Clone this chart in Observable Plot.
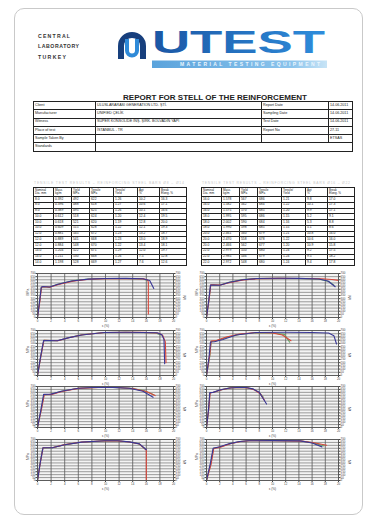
<!DOCTYPE html>
<html><head><meta charset="utf-8">
<script src="https://cdn.jsdelivr.net/npm/d3@7"></script>
<script src="https://cdn.jsdelivr.net/npm/@observablehq/plot@0.6"></script>
<style>
body{margin:0;background:#fff;font-family:"Liberation Sans",Arial,sans-serif;}
#page{position:relative;width:369px;height:520px;overflow:hidden;background:#fff;}
.card{position:absolute;left:14px;top:8px;width:349px;height:507px;border:1px solid #c9c9c9;border-radius:10px;box-sizing:border-box;}
svg.deco{position:absolute;left:0;top:0;}
table{position:absolute;border-collapse:collapse;table-layout:fixed;color:#222;font-family:"Liberation Sans",Arial,sans-serif;}
td,th{border:0.8px solid #222;padding:0 0 0 1px;overflow:hidden;white-space:nowrap;font-weight:normal;text-align:left;vertical-align:middle;}
table.info tr{height:8.3px;}
table.info td{font-size:3.7px;line-height:3.7px;}
table.data tr{height:5.75px;}
table.data tr.hd{height:9px;}
table.data td{font-size:3.3px;line-height:3.3px;}
table.data th{font-size:3px;line-height:3.4px;}
.chart{position:absolute;}
</style></head>
<body><div id="page">
<div class="card"></div>
<svg class="deco" width="369" height="200" viewBox="0 0 369 200">
  <defs>
    <linearGradient id="gU" x1="0" y1="0" x2="1" y2="0">
      <stop offset="0" stop-color="#1b56a4"/><stop offset="1" stop-color="#2e8ddc"/>
    </linearGradient>
    <linearGradient id="gB" x1="0" y1="0" x2="1" y2="0">
      <stop offset="0" stop-color="#5aa3dc"/><stop offset="0.8" stop-color="#8cc4ec"/><stop offset="1" stop-color="#c8e4f6"/>
    </linearGradient>
  </defs>
  <g font-family="Liberation Sans, Arial" fill="#333" font-weight="bold">
    <text x="38" y="37.5" font-size="5.2" textLength="32" lengthAdjust="spacing">CENTRAL</text>
    <text x="38" y="48" font-size="5.2" textLength="41" lengthAdjust="spacing">LABORATORY</text>
    <text x="38" y="59" font-size="5.2" textLength="28" lengthAdjust="spacing">TURKEY</text>
  </g>
  <path d="M121 59 V46 A11 11 0 0 1 143 46 V59" fill="none" stroke="#173f7d" stroke-width="6"/>
  <path d="M127 39 V50.5 A5 5 0 0 0 137 50.5 V39" fill="none" stroke="#2f8ad8" stroke-width="4"/>
  <text x="152" y="53" font-family="Liberation Sans, Arial" font-weight="bold" font-size="30.5" textLength="173" lengthAdjust="spacingAndGlyphs" fill="url(#gU)">UTEST</text>
  <rect x="152" y="60.5" width="175" height="7.5" fill="url(#gB)"/>
  <text x="180" y="66.3" font-family="Liberation Sans, Arial" font-weight="bold" font-size="5" textLength="140" lengthAdjust="spacing" fill="#eaf5fd">MATERIAL TESTING EQUIPMENT</text>
  <text x="215" y="100" text-anchor="middle" font-family="Liberation Sans, Arial" font-weight="bold" font-size="7.3" textLength="184" lengthAdjust="spacingAndGlyphs" fill="#222">REPORT FOR STELL OF THE REINFORCEMENT</text>
  <text x="34" y="183.5" font-family="Liberation Sans, Arial" font-size="3.4" textLength="150" lengthAdjust="spacing" fill="#c8c8c8">TENSILE TEST RESULTS – REINFORCING STEEL BARS Ø8 – Ø14</text>
  <text x="202" y="183.5" font-family="Liberation Sans, Arial" font-size="3.4" textLength="148" lengthAdjust="spacing" fill="#c8c8c8">TENSILE TEST RESULTS – REINFORCING STEEL BARS Ø16 – Ø22</text>
</svg>
<table class="info" id="info" style="left:33px;top:101px;width:319px;"></table>
<table class="data" id="tl" style="left:33px;top:187px;width:153px;"></table>
<table class="data" id="tr" style="left:201px;top:187px;width:151px;"></table>
</div>
<script>
// ---------- info table ----------
const infoLabels = ["Client", "Manufacturer", "Witness", "Place of test", "Sample Taken By", "Standards"];
const infoValues = ["ULUSLARARASI GENERATION LTD. ŞTİ.", "UNIFIED ÇELİK", "SUPER KONSOLIDE İNŞ. ŞİRK. BOLVADİN YAPI", "İSTANBUL - TR", "", ""];
const infoLabels2 = ["Report Date", "Sampling Date", "Test Date", "Report No", "", null];
const infoValues2 = ["14.06.2011", "14.06.2011", "14.06.2011", "27-11", "ETSAS", null];

// ---------- data tables ----------
const headers = ["Nominal<br>Dia. mm", "Mass<br>kg/m", "Yield<br>MPa", "Tensile<br>MPa", "Tensile/<br>Yield", "Agt<br>%", "Break<br>Elong. %"];
const diaL = ["8.0","8.0","8.0","10.0","10.0","10.0","12.0","12.0","12.0","14.0","14.0","14.0"];
const massL = ["0.392","0.396","0.389","0.612","0.618","0.609","0.881","0.889","0.884","1.204","1.211","1.198"];
const yieldL = ["492","488","495","518","521","515","545","541","548","522","530","528"];
const tensL = ["622","618","625","624","620","628","672","668","670","671","668","669"];
const ratioL = ["1.26","1.27","1.26","1.20","1.19","1.22","1.23","1.23","1.22","1.29","1.26","1.27"];
const agtL = ["10.2","10.6","10.1","12.4","12.8","12.1","13.2","13.0","13.4","12.0","7.5","7.6"];
const elongL = ["16.3","17.1","16.6","19.5","20.0","19.3","18.7","18.9","18.1","19.7","12.8","12.6"];
const diaR = ["16.0","16.0","16.0","18.0","18.0","18.0","20.0","20.0","20.0","22.0","22.0","22.0"];
const massR = ["1.578","1.582","1.575","1.995","2.002","1.990","2.461","2.470","2.466","2.979","2.985","2.972"];
const yieldR = ["567","562","570","595","590","598","560","558","562","550","546","548"];
const tensR = ["686","684","685","686","684","685","679","678","677","680","679","680"];
const ratioR = ["1.21","1.22","1.20","1.15","1.16","1.15","1.21","1.22","1.20","1.24","1.24","1.24"];
const agtR = ["9.8","10.1","9.9","5.2","5.3","5.1","10.8","10.6","10.9","9.2","9.5","9.4"];
const elongR = ["17.0","17.3","17.1","9.1","8.8","8.6","16.0","16.0","15.8","17.5","18.2","17.8"];

// ---------- stress-strain curves (strain %, stress MPa), specimens A/B/C ----------
const xTicks = [0,2,4,6,8,10,12,14,16,18,20];
const yTicks = [0,50,100,150,200,250,300,350,400,450,500,550,600,650,700];
const specimens = ["A","B","C"];
const specColors = ["#3a3796","#d8463a","#62a566"];

const c1Strain = [[0,0.3,0.55,0.8,1.8,3,5,7.5,10,13,15.5,16.5,17.1],[0,0.35,0.6,0.9,1.9,3.1,5.2,7.6,10,13,15.6,16.2,16.3,16.3],[0,0.3,0.55,0.85,1.7,3,5,7.4,10,13,15.5,16.2]];
const c1Stress = [[0,250,480,492,486,530,580,610,620,622,616,590,462],[0,260,485,490,484,526,578,608,618,620,614,598,560,55],[0,255,478,488,482,528,582,612,621,621,612,590]];
const c2Strain = [[0,0.35,0.6,1,2,3.5,5.5,7.6,11,14,17,18.4,19.5],[0,0.4,0.65,1.1,2.1,3.6,5.6,7.8,11,14,17.5,19,20],[0,0.38,0.62,1,2,3.4,5.4,7.5,11,14,17.2,18.6,19.3]];
const c2Stress = [[0,280,515,518,514,560,600,620,624,622,612,580,490],[0,290,520,522,516,558,598,618,622,621,616,605,590],[0,285,512,516,512,562,602,621,623,621,610,570,515]];
const c3Strain = [[0,0.45,0.9,1.8,2.9,4.5,6.5,9.8,13,15.5,17.6,18.3,18.6,18.7],[0,0.5,0.95,1.9,3,4.6,6.6,9.9,13,15.5,17.7,18.4,18.8,18.9],[0,0.48,0.92,1.85,2.95,4.5,6.5,9.8,13,15.5,17.4,18.1]];
const c3Stress = [[0,290,545,542,540,585,630,668,672,670,664,632,560,182],[0,300,548,544,542,588,634,670,673,671,662,625,520,200],[0,295,546,543,541,586,632,669,671,669,662,630]];
const c4Strain = [[0,0.4,0.6,1.2,2.5,4.5,7.5,12,16,18.5,19.3,19.7],[0,0.5,0.7,1.5,3,5,7.5,10,11.5,12.8],[0,0.5,0.7,1.5,3,5,7.5,10,11.8,12.6]];
const c4Stress = [[0,300,520,525,560,630,668,672,670,660,620,490],[0,320,535,545,600,645,668,662,630,540],[0,300,530,540,590,640,666,660,640,518]];
const c5Strain = [[0,0.5,0.9,2,3.5,6,8.8,11,13.5,15.5,17],[0,0.6,1,2.1,3.6,6,9,11.5,14,16,17.3],[0,0.55,0.95,2,3.5,6,8.9,11.2,13.8,15.8,17.1]];
const c5Stress = [[0,300,565,570,620,670,686,685,670,620,515],[0,320,560,565,615,668,684,682,665,615,545],[0,310,562,568,618,669,685,684,668,625,560]];
const c6Strain = [[0,0.3,0.5,1,2,3.5,5,6,7,8,9.1],[0,0.35,0.55,1.2,2.3,3.8,5.2,6.3,7.3,8.2,8.8],[0,0.32,0.52,1.1,2.1,3.6,5.1,6.1,7.1,8,8.6]];
const c6Stress = [[0,300,595,600,640,675,686,682,660,600,400],[0,320,590,605,645,678,684,676,640,570,460],[0,310,592,602,642,676,685,680,655,595,520]];
const c7Strain = [[0,0.4,0.8,2.3,4,6.5,9.9,11.8,13.5,15,16],[0,0.42,0.82,2.3,4,6.5,9.9,11.8,13.5,15,16,16],[0,0.38,0.78,2.2,3.9,6.4,9.8,11.7,13.4,14.9,15.8]];
const c7Stress = [[0,300,558,562,610,655,679,678,660,625,525],[0,305,560,563,612,656,678,677,658,622,520,0],[0,298,556,560,608,653,677,677,661,628,540]];
const c8Strain = [[0,0.6,1,2,3.5,5,6.3,10,14.2,16,17.5],[0,0.7,1.1,2.1,3.6,5.2,6.5,10,14.5,16.5,18.2],[0,0.65,1.05,2.05,3.55,5.1,6.4,10,14.3,16.2,17.8]];
const c8Stress = [[0,300,550,575,630,665,679,680,676,640,574],[0,280,546,570,628,666,678,679,672,640,602],[0,290,548,572,629,666,679,680,674,642,590]];

// ---------- build tables ----------
(function(){
  const t = document.getElementById("info");
  t.innerHTML = '<colgroup><col style="width:62px"><col style="width:166px"><col style="width:67px"><col style="width:24px"></colgroup>' +
    infoLabels.map((l,i) => infoLabels2[i] === null
      ? `<tr><td>${l}</td><td colspan="3">${infoValues[i]}</td></tr>`
      : `<tr><td>${l}</td><td>${infoValues[i]}</td><td>${infoLabels2[i]}</td><td>${infoValues2[i]}</td></tr>`).join("");
  function dataTable(id, cols) {
    const el = document.getElementById(id);
    el.innerHTML = '<colgroup>' + [20,18,18,24,24,22,27].map(w=>`<col style="width:${w}px">`).join("") + '</colgroup>' +
      '<tr class="hd">' + headers.map(h=>`<th>${h}</th>`).join("") + '</tr>' +
      cols[0].map((_,r)=>'<tr>' + cols.map(c=>`<td>${c[r]}</td>`).join("") + '</tr>').join("");
  }
  dataTable("tl", [diaL, massL, yieldL, tensL, ratioL, agtL, elongL]);
  dataTable("tr", [diaR, massR, yieldR, tensR, ratioR, agtR, elongR]);
})();

// ---------- charts ----------
function chart(strain, stress, w, h) {
  const rows = [];
  for (let k = strain.length - 1; k >= 0; k--)
    strain[k].forEach((x, i) => rows.push({spec: specimens[k], strain: x, stress: stress[k][i]}));
  const ax = {tickSize: 1.5, tickPadding: 0.6, fontSize: 2.9, label: null};
  return Plot.plot({
    width: w + 28, height: h + 16,
    marginLeft: 14, marginRight: 14, marginTop: 3, marginBottom: 13,
    x: {domain: [0, 20]},
    y: {domain: [0, 700]},
    color: {domain: specimens, range: specColors},
    style: {fontFamily: "Liberation Sans, Arial", color: "#444", background: "transparent", overflow: "visible"},
    marks: [
      Plot.frame({fill: "#f4f4f4", stroke: null}),
      Plot.gridY(yTicks, {stroke: "#7c7c7c", strokeOpacity: 1, strokeWidth: 0.75}),
      Plot.gridX(xTicks, {stroke: "#5e5e5e", strokeOpacity: 1, strokeWidth: 0.85}),
      Plot.axisY(yTicks, {anchor: "left", ...ax}),
      Plot.axisY(yTicks, {anchor: "right", ...ax}),
      Plot.axisX(xTicks, {anchor: "bottom", tickSize: 2, tickPadding: 0.8, fontSize: 2.9, label: null}),
      Plot.line(rows, {x: "strain", y: "stress", z: "spec", stroke: "spec", strokeWidth: 1.1}),
      Plot.frame({stroke: "#555", strokeWidth: 0.9}),
      Plot.text(["MPa"], {frameAnchor: "left", rotate: -90, dx: -10, fontSize: 3.4, fill: "#333"}),
      Plot.text(["kN"], {frameAnchor: "right", rotate: -90, dx: 11, fontSize: 3.4, fill: "#333"}),
      Plot.text(["ε (%)"], {frameAnchor: "bottom", dy: 9, fontSize: 3.2, fill: "#444"})
    ]
  });
}
const page = document.getElementById("page");
const rowTop = [273, 330, 386, 439];
const rowH = [44, 45, 41, 41];
const colX = [37, 206];
const colW = [136, 132];
const charts = [[c1Strain,c1Stress],[c2Strain,c2Stress],[c3Strain,c3Stress],[c4Strain,c4Stress],[c5Strain,c5Stress],[c6Strain,c6Stress],[c7Strain,c7Stress],[c8Strain,c8Stress]];
charts.forEach(([s, t], i) => {
  const r = Math.floor(i / 2), c = i % 2;
  const el = chart(s, t, colW[c], rowH[r]);
  el.classList.add("chart");
  el.style.left = (colX[c] - 14) + "px";
  el.style.top = (rowTop[r] - 3) + "px";
  page.appendChild(el);
});
</script>
</body></html>
